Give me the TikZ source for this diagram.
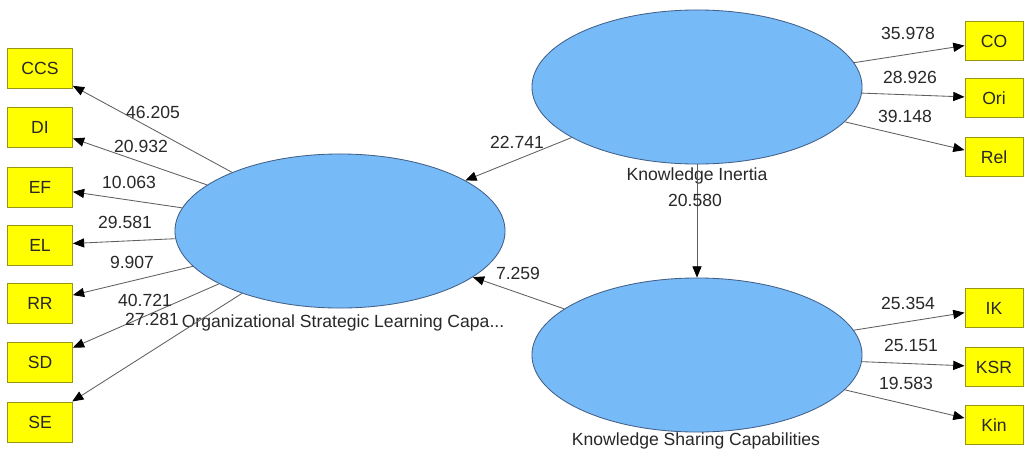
\documentclass[tikz,border=0pt]{standalone}
\usepackage{fontspec}
\setmainfont{Liberation Sans}
\usetikzlibrary{shapes.geometric,arrows.meta}
\definecolor{latentfill}{RGB}{118,186,248}
\definecolor{latentedge}{RGB}{65,95,135}
\definecolor{itemfill}{RGB}{255,255,0}
\definecolor{itemedge}{RGB}{150,150,20}
\definecolor{pathline}{RGB}{95,95,95}
\definecolor{txt}{RGB}{40,40,40}
\tikzset{
  latent/.style={ellipse, draw=latentedge, fill=latentfill, line width=0.6pt,
    minimum width=8.25cm, minimum height=3.85cm, inner sep=0pt},
  itemL/.style={rectangle, draw=itemedge, fill=itemfill, line width=0.7pt,
    minimum width=1.62cm, minimum height=1cm, inner sep=0pt, text=txt,
    font=\fontsize{12.5}{14}\selectfont},
  itemR/.style={itemL, minimum width=1.45cm, minimum height=0.98cm},
  wt/.style={text=txt, inner sep=0pt, font=\fontsize{12.5}{14}\selectfont},
  lname/.style={text=txt, inner sep=0pt, font=\fontsize{12.5}{14}\selectfont},
  path/.style={draw=pathline, line width=0.6pt,
    -{Triangle[length=8pt,width=6.5pt,color=black]}}
}
\begin{document}
\begin{tikzpicture}[x=0.025cm, y=-0.025cm]
\useasboundingbox[fill=white] (0,0) rectangle (1025,454);

% latent variables
\node[latent] (osl) at (340,231) {};
\node[latent] (ki)  at (697,87)  {};
\node[latent] (ksc) at (697,355) {};
\node[lname] (oslname) at (343,323) {Organizational Strategic Learning Capa...};
\node[lname] (kiname)  at (697,176) {Knowledge Inertia};
\node[lname] (kscname) at (696,441) {Knowledge Sharing Capabilities};

% indicators of the learning capability construct
\node[itemL] (ccs) at (40,68)  {CCS};
\node[itemL] (di)  at (40,127) {DI};
\node[itemL] (ef)  at (40,187) {EF};
\node[itemL] (el)  at (40,245) {EL};
\node[itemL] (rr)  at (40,303) {RR};
\node[itemL] (sd)  at (40,362) {SD};
\node[itemL] (se)  at (40,422) {SE};

% indicators of knowledge inertia
\node[itemR] (co)  at (994,41)  {CO};
\node[itemR] (ori) at (994,98)  {Ori};
\node[itemR] (rel) at (994,157) {Rel};

% indicators of knowledge sharing
\node[itemR] (ik)  at (994,308) {IK};
\node[itemR] (ksr) at (994,367) {KSR};
\node[itemR] (kin) at (994,425) {Kin};

% outer paths
\foreach \t in {ccs,di,ef,el,rr,sd,se} \draw[path] (osl) -- (\t);
\foreach \t in {co,ori,rel} \draw[path] (ki) -- (\t);
\foreach \t in {ik,ksr,kin} \draw[path] (ksc) -- (\t);

% inner paths
\draw[path] (ki) -- (osl);
\draw[path] (ksc) -- (osl);
\draw[path] (ki) -- (ksc);

% path weights
\node[wt] (w1)  at (153,112) {46.205};
\node[wt] (w2)  at (141,146) {20.932};
\node[wt] (w3)  at (129,182) {10.063};
\node[wt] (w4)  at (125,222) {29.581};
\node[wt] (w5)  at (132,262) {9.907};
\node[wt] (w6)  at (145,300) {40.721};
\node[wt] (w7)  at (152,319) {27.281};
\node[wt] (w8)  at (908,33)  {35.978};
\node[wt] (w9)  at (910,77)  {28.926};
\node[wt] (w10) at (905,116) {39.148};
\node[wt] (w11) at (517,142) {22.741};
\node[wt] (w12) at (518,273) {7.259};
\node[wt] (w13) at (695,200) {20.580};
\node[wt] (w14) at (908,303) {25.354};
\node[wt] (w15) at (911,345) {25.151};
\node[wt] (w16) at (906,383) {19.583};
\end{tikzpicture}
\end{document}
